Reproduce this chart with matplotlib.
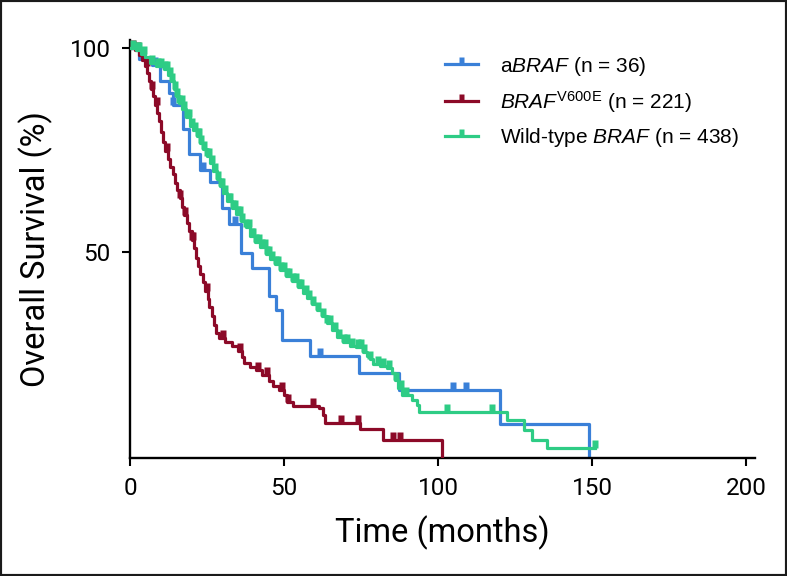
import numpy as np
import matplotlib
matplotlib.use("Agg")
from matplotlib import pyplot as plt
from matplotlib.path import Path
from matplotlib.lines import Line2D
from matplotlib.patches import Rectangle

plt.rcParams["mathtext.fontset"] = "custom"
plt.rcParams["mathtext.rm"] = "Liberation Sans"
plt.rcParams["mathtext.it"] = "Liberation Sans:italic"

# Kaplan-Meier curves (months, % surviving)
blue_t = [0, 2.8, 7.0, 9.8, 12.5, 14.1, 17.2, 19.0, 22.7, 26.0, 30.0, 32.0, 36.0, 39.5, 45.0, 47.4, 49.3, 58.5, 74.2, 87.2, 120.2, 148.9]
blue_s = [100, 97.3, 95.9, 92.0, 89.1, 86.1, 80.1, 73.9, 70.2, 67.2, 60.8, 56.8, 49.8, 46.1, 39.1, 35.8, 28.4, 24.5, 20.3, 16.0, 7.8, 0]
blue_cens = [8.1, 14.1, 23.8, 34.1, 61.7, 104.8, 109.2]

red_t = [0, 1.5, 3.0, 4.0, 5.0, 5.5, 6.2, 6.8, 7.5, 8.2, 8.8, 9.5, 10.2, 10.8, 11.5, 12.2,
         13.0, 13.8, 14.6, 15.4, 16.2, 17.0, 17.6, 18.4, 19.2, 20.0, 20.8, 21.4, 22.0, 22.8,
         23.6, 24.4, 25.2, 25.8, 26.5, 27.2, 28.0, 29.0, 31.0, 33.0, 35.0, 36.2, 37.0, 39.0,
         41.0, 43.0, 45.0, 46.5, 48.5, 50.0, 51.0, 53.0, 61.5, 62.5, 63.4, 74.7, 82.0, 101.3]
red_s = [100, 99.5, 98.2, 97.0, 95.5, 93.8, 92.0, 90.0, 88.2, 86.0, 84.2, 82.0, 79.5, 77.0, 74.8, 72.8,
         70.8, 69.0, 67.0, 65.2, 63.3, 61.0, 59.0, 57.0, 55.2, 53.0, 51.0, 48.5, 46.5, 44.5,
         42.5, 40.5, 38.5, 36.5, 34.2, 32.0, 30.0, 28.8, 27.8, 26.8, 25.8, 24.2, 22.8, 21.8,
         21.0, 19.8, 18.2, 17.0, 16.0, 15.0, 13.2, 12.2, 11.6, 10.0, 7.9, 6.5, 3.8, 0]
red_cens = [1.0, 2.7, 5.4, 7.0, 8.7, 11.9, 16.2, 17.9, 20.0, 20.6, 24.9, 30.3, 35.7, 41.7,
            44.4, 49.3, 51.4, 59.3, 68.5, 73.9, 85.5, 87.7]

green_t = [0, 2.0, 3.5, 5.0, 6.5, 8.5, 11.0, 12.2, 13.2, 14.2, 15.0, 15.8, 17.0, 18.2, 19.5,
           20.5, 21.7, 22.8, 23.8, 25.0, 26.0, 27.0, 28.2, 29.2, 30.3, 31.6, 33.0, 34.5, 36.0,
           37.5, 39.0, 40.5, 42.2, 44.0, 45.5, 47.0, 48.7, 50.5, 52.5, 54.5, 56.0, 57.5, 59.0,
           60.7, 62.2, 63.9, 65.5, 67.2, 69.0, 71.5, 73.5, 75.8, 77.0, 78.0, 79.0, 81.0, 83.4,
           85.0, 86.1, 87.0, 88.3, 91.5, 93.1, 93.7, 122.4, 127.8, 130.5, 135.4, 151.1]
green_s = [100, 99.5, 98.6, 97.8, 96.3, 95.6, 94.8, 93.5, 92.0, 90.0, 88.2, 86.6, 85.0, 83.0, 81.0,
           79.8, 78.4, 76.8, 75.2, 73.5, 71.9, 69.8, 67.8, 66.2, 64.5, 62.6, 60.8, 59.2, 57.6,
           56.0, 54.0, 52.4, 51.2, 49.4, 48.3, 47.0, 45.6, 44.2, 42.8, 41.4, 40.0, 38.8, 37.3,
           35.8, 34.2, 32.5, 30.8, 29.2, 28.0, 26.8, 26.6, 25.5, 24.5, 23.6, 22.5, 22.0, 21.4,
           20.2, 18.6, 16.5, 15.0, 13.7, 12.4, 10.8, 8.8, 6.3, 3.8, 1.8, 1.8]
green_cens = [1.0, 2.5, 3.0, 4.5, 7.0, 9.0, 10.0, 11.5, 12.0, 13.0, 13.5, 14.5, 15.3, 16.0,
              16.8, 17.5, 18.5, 19.0, 20.0, 21.0, 22.0, 22.5, 23.2, 24.0, 25.0, 25.5, 26.5,
              27.5, 28.5, 29.5, 30.0, 31.0, 32.0, 32.5, 33.5, 34.2, 35.0, 35.7, 36.5, 37.5,
              38.5, 39.5, 40.0, 41.0, 42.0, 43.0, 43.8, 44.5, 45.2, 46.0, 47.5, 48.2, 49.0,
              50.0, 51.0, 51.5, 53.0, 54.0, 55.0, 55.5, 57.0, 58.0, 59.5, 61.0, 62.5, 64.0,
              65.0, 66.5, 68.0, 69.5, 70.5, 72.0, 74.0, 75.0, 76.0, 78.0, 80.5, 82.0, 84.0,
              86.5, 88.0, 89.5, 102.9, 117.5, 151.1]

labels = ["a$\\mathit{BRAF}$ (n = 36)",
          "$\\mathit{BRAF}^{\\mathrm{V600E}}$ (n = 221)",
          "Wild-type $\\mathit{BRAF}$ (n = 438)"]
colors = ["#3a80d8", "#8c0a28", "#2ecc85"]

# censor tick: small block standing on the line
cens_marker = Path([(-0.36, 0), (0.36, 0), (0.36, 1), (-0.36, 1), (-0.36, 0)],
                   [Path.MOVETO, Path.LINETO, Path.LINETO, Path.LINETO, Path.CLOSEPOLY])


def level_at(t, s, x):
    idx = np.searchsorted(np.asarray(t), np.asarray(x), side="right") - 1
    return np.asarray(s)[idx]


fig = plt.figure(figsize=(7.87, 5.76), dpi=100)
ax = fig.add_axes([0.1652, 0.2054, 0.7945, 0.7252])

curves = [(blue_t, blue_s, blue_cens), (red_t, red_s, red_cens), (green_t, green_s, green_cens)]
for i in [2, 1, 0]:
    t, s, c = curves[i]
    ax.step(t, s, where="post", color=colors[i], lw=2.3, zorder=2 + i)
    ax.plot(c, level_at(t, s, c), ls="none", marker=cens_marker, ms=11,
            color=colors[i], mec="none", zorder=2 + i)

ax.set_xlim(0, 203)
ax.set_ylim(-0.5, 102)
ax.set_xticks([0, 50, 100, 150, 200])
ax.set_yticks([50, 100])
for side in ["top", "right"]:
    ax.spines[side].set_visible(False)
for side in ["left", "bottom"]:
    ax.spines[side].set_linewidth(1.7)
ax.tick_params(width=1.5, length=6, pad=8, labelsize=17.5)
for lab in ax.get_xticklabels() + ax.get_yticklabels():
    lab.set_fontfamily("Roboto")

ax.set_xlabel("Time (months)", fontsize=23.5, family="Roboto", labelpad=11)
ax.set_ylabel("Overall Survival (%)", fontsize=23.5, family="Roboto", labelpad=12)

handles = [Line2D([], [], color=colors[i], lw=2.3, marker=cens_marker, ms=10, mec="none")
           for i in range(3)]
ax.legend(handles, labels, loc="upper left", bbox_to_anchor=(0.503, 0.965), frameon=False,
          numpoints=1, prop={"family": "Liberation Sans", "size": 15}, handlelength=1.6,
          handletextpad=1.05, labelspacing=0.55, borderpad=0, borderaxespad=0)

# thin black frame round the whole picture
fig.patches.append(Rectangle((0, 0), 1, 1, transform=fig.transFigure, fill=False,
                             edgecolor="#1a1a1a", lw=3, zorder=10))

fig.savefig("out.png", dpi=100)
